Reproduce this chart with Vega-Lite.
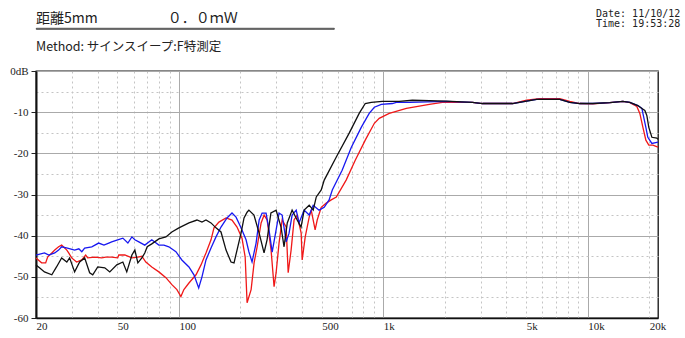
{
  "$schema": "https://vega.github.io/schema/vega-lite/v6.json",
  "padding": {"left": 9, "top": 9, "right": 5, "bottom": 5},
  "background": "white",
  "config": {"view": {"stroke": "#111", "strokeWidth": 1.3}, "font": "Liberation Sans Narrow"},
  "datasets": {
    "fr": [
      {"s":"r","f":20,"db":-45.4},{"s":"r","f":21.3,"db":-46.6},{"s":"r","f":22.3,"db":-46.6},{"s":"r","f":22.8,"db":-45.2},{"s":"r","f":23.9,"db":-44.2},{"s":"r","f":24.7,"db":-43.5},{"s":"r","f":25.8,"db":-42.7},{"s":"r","f":26.7,"db":-42.3},{"s":"r","f":28.3,"db":-43.5},{"s":"r","f":28.9,"db":-44.2},{"s":"r","f":29.9,"db":-45.4},{"s":"r","f":31.6,"db":-46.4},{"s":"r","f":33.5,"db":-45.9},{"s":"r","f":35.0,"db":-44.7},{"s":"r","f":35.8,"db":-45.4},{"s":"r","f":38.8,"db":-45.2},{"s":"r","f":41.9,"db":-45.4},{"s":"r","f":43.9,"db":-45.2},{"s":"r","f":46.9,"db":-45.2},{"s":"r","f":50.2,"db":-45.4},{"s":"r","f":50.8,"db":-44.7},{"s":"r","f":54.4,"db":-44.7},{"s":"r","f":58.9,"db":-45.4},{"s":"r","f":63.0,"db":-45.2},{"s":"r","f":65.9,"db":-45.0},{"s":"r","f":68.9,"db":-46.4},{"s":"r","f":73.7,"db":-47.6},{"s":"r","f":79.8,"db":-48.8},{"s":"r","f":86.4,"db":-50.2},{"s":"r","f":92.4,"db":-51.9},{"s":"r","f":97.8,"db":-53.1},{"s":"r","f":102.3,"db":-54.8},{"s":"r","f":105.8,"db":-53.1},{"s":"r","f":112,"db":-51.5},{"s":"r","f":121.3,"db":-49.5},{"s":"r","f":128.3,"db":-47.1},{"s":"r","f":135.7,"db":-44.2},{"s":"r","f":143.6,"db":-41.0},{"s":"r","f":148.5,"db":-38.1},{"s":"r","f":157,"db":-36.7},{"s":"r","f":170.1,"db":-35.7},{"s":"r","f":181.9,"db":-36.2},{"s":"r","f":192.5,"db":-37.9},{"s":"r","f":203.6,"db":-40.6},{"s":"r","f":211,"db":-45.2},{"s":"r","f":215.6,"db":-56.3},{"s":"r","f":225.6,"db":-53.1},{"s":"r","f":233.3,"db":-46.6},{"s":"r","f":241.4,"db":-42.7},{"s":"r","f":252.5,"db":-36.9},{"s":"r","f":261.2,"db":-35.0},{"s":"r","f":270.2,"db":-36.2},{"s":"r","f":282.5,"db":-43.5},{"s":"r","f":292.2,"db":-52.4},{"s":"r","f":299,"db":-49.0},{"s":"r","f":309,"db":-41.8},{"s":"r","f":320,"db":-36.2},{"s":"r","f":334.8,"db":-37.9},{"s":"r","f":342.5,"db":-49.0},{"s":"r","f":354,"db":-43.5},{"s":"r","f":366,"db":-36.2},{"s":"r","f":379,"db":-35.0},{"s":"r","f":396.5,"db":-39.4},{"s":"r","f":401,"db":-45.9},{"s":"r","f":415,"db":-40.3},{"s":"r","f":434,"db":-35.5},{"s":"r","f":444,"db":-33.8},{"s":"r","f":464,"db":-38.6},{"s":"r","f":475,"db":-36.2},{"s":"r","f":497,"db":-33.1},{"s":"r","f":526,"db":-32.1},{"s":"r","f":556,"db":-31.3},{"s":"r","f":589,"db":-30.6},{"s":"r","f":658,"db":-26.5},{"s":"r","f":729,"db":-21.7},{"s":"r","f":816,"db":-16.8},{"s":"r","f":904,"db":-12.7},{"s":"r","f":955,"db":-11.5},{"s":"r","f":1069,"db":-10.3},{"s":"r","f":1297,"db":-9.1},{"s":"r","f":1680,"db":-8.1},{"s":"r","f":1945,"db":-7.6},{"s":"r","f":2729,"db":-7.6},{"s":"r","f":3055,"db":-7.9},{"s":"r","f":4288,"db":-7.9},{"s":"r","f":5024,"db":-7.1},{"s":"r","f":5800,"db":-6.7},{"s":"r","f":7298,"db":-6.7},{"s":"r","f":8165,"db":-7.4},{"s":"r","f":9142,"db":-7.9},{"s":"r","f":10588,"db":-8.0},{"s":"r","f":12820,"db":-7.7},{"s":"r","f":14860,"db":-7.4},{"s":"r","f":16080,"db":-7.7},{"s":"r","f":17390,"db":-8.6},{"s":"r","f":17990,"db":-10.3},{"s":"r","f":18620,"db":-13.7},{"s":"r","f":19250,"db":-16.8},{"s":"r","f":19900,"db":-18.0},{"s":"r","f":20830,"db":-18.0},{"s":"r","f":22070,"db":-18.5},
      {"s":"b","f":20,"db":-44.7},{"s":"b","f":22.0,"db":-44.2},{"s":"b","f":23.1,"db":-44.7},{"s":"b","f":24.7,"db":-44.2},{"s":"b","f":25.8,"db":-43.5},{"s":"b","f":26.7,"db":-42.7},{"s":"b","f":28.5,"db":-43.0},{"s":"b","f":30.9,"db":-43.5},{"s":"b","f":32.4,"db":-43.2},{"s":"b","f":33.5,"db":-43.9},{"s":"b","f":34.6,"db":-43.0},{"s":"b","f":37.5,"db":-42.7},{"s":"b","f":40.5,"db":-41.8},{"s":"b","f":43.0,"db":-42.3},{"s":"b","f":45.4,"db":-41.8},{"s":"b","f":46.9,"db":-41.5},{"s":"b","f":50.2,"db":-41.0},{"s":"b","f":53.2,"db":-40.6},{"s":"b","f":56.3,"db":-41.8},{"s":"b","f":58.9,"db":-40.3},{"s":"b","f":60.9,"db":-41.0},{"s":"b","f":63.7,"db":-41.5},{"s":"b","f":68.1,"db":-42.3},{"s":"b","f":73.7,"db":-41.0},{"s":"b","f":79.8,"db":-42.3},{"s":"b","f":84.5,"db":-42.3},{"s":"b","f":89.3,"db":-42.7},{"s":"b","f":96.7,"db":-43.9},{"s":"b","f":103.4,"db":-45.9},{"s":"b","f":112,"db":-47.6},{"s":"b","f":118.5,"db":-49.5},{"s":"b","f":125,"db":-52.7},{"s":"b","f":129.7,"db":-50.0},{"s":"b","f":135.7,"db":-45.9},{"s":"b","f":143.6,"db":-43.0},{"s":"b","f":151.9,"db":-40.3},{"s":"b","f":160.7,"db":-37.9},{"s":"b","f":172,"db":-35.7},{"s":"b","f":181.9,"db":-34.5},{"s":"b","f":190.4,"db":-35.5},{"s":"b","f":201.4,"db":-38.1},{"s":"b","f":213.1,"db":-41.0},{"s":"b","f":220,"db":-43.9},{"s":"b","f":228,"db":-46.4},{"s":"b","f":238.6,"db":-41.8},{"s":"b","f":247,"db":-36.2},{"s":"b","f":255.4,"db":-34.5},{"s":"b","f":267,"db":-34.5},{"s":"b","f":276,"db":-38.6},{"s":"b","f":286,"db":-44.0},{"s":"b","f":299,"db":-38.6},{"s":"b","f":309,"db":-34.5},{"s":"b","f":320,"db":-35.0},{"s":"b","f":335,"db":-41.5},{"s":"b","f":346,"db":-39.4},{"s":"b","f":358,"db":-35.0},{"s":"b","f":375,"db":-33.8},{"s":"b","f":387,"db":-36.9},{"s":"b","f":410,"db":-33.8},{"s":"b","f":434,"db":-35.0},{"s":"b","f":454,"db":-32.6},{"s":"b","f":485,"db":-33.8},{"s":"b","f":514,"db":-33.1},{"s":"b","f":543,"db":-31.3},{"s":"b","f":563,"db":-28.9},{"s":"b","f":629,"db":-24.1},{"s":"b","f":697,"db":-18.6},{"s":"b","f":780,"db":-13.7},{"s":"b","f":853,"db":-10.3},{"s":"b","f":904,"db":-8.8},{"s":"b","f":978,"db":-8.1},{"s":"b","f":1107,"db":-7.9},{"s":"b","f":1158,"db":-7.6},{"s":"b","f":1340,"db":-7.6},{"s":"b","f":2032,"db":-7.4},{"s":"b","f":2729,"db":-7.6},{"s":"b","f":3055,"db":-7.9},{"s":"b","f":4288,"db":-7.9},{"s":"b","f":5024,"db":-7.3},{"s":"b","f":5624,"db":-6.9},{"s":"b","f":7298,"db":-6.9},{"s":"b","f":8165,"db":-7.6},{"s":"b","f":9142,"db":-7.9},{"s":"b","f":10588,"db":-7.9},{"s":"b","f":12820,"db":-7.7},{"s":"b","f":14860,"db":-7.4},{"s":"b","f":16080,"db":-7.6},{"s":"b","f":17590,"db":-8.4},{"s":"b","f":18410,"db":-9.1},{"s":"b","f":18620,"db":-10.3},{"s":"b","f":19250,"db":-13.7},{"s":"b","f":19680,"db":-16.1},{"s":"b","f":20600,"db":-17.6},{"s":"b","f":22070,"db":-17.3},
      {"s":"k","f":20,"db":-47.1},{"s":"k","f":20.8,"db":-47.8},{"s":"k","f":22.0,"db":-48.8},{"s":"k","f":23.9,"db":-49.5},{"s":"k","f":25.2,"db":-47.6},{"s":"k","f":26.7,"db":-45.4},{"s":"k","f":28.3,"db":-46.4},{"s":"k","f":29.2,"db":-45.4},{"s":"k","f":30.9,"db":-48.8},{"s":"k","f":32.7,"db":-46.4},{"s":"k","f":34.6,"db":-45.4},{"s":"k","f":36.6,"db":-49.0},{"s":"k","f":37.9,"db":-49.5},{"s":"k","f":40.1,"db":-47.6},{"s":"k","f":43.4,"db":-47.8},{"s":"k","f":45.9,"db":-48.8},{"s":"k","f":49.7,"db":-47.1},{"s":"k","f":53.2,"db":-46.4},{"s":"k","f":55.6,"db":-48.8},{"s":"k","f":58.9,"db":-44.7},{"s":"k","f":60.9,"db":-43.5},{"s":"k","f":63.0,"db":-46.6},{"s":"k","f":65.9,"db":-45.4},{"s":"k","f":68.1,"db":-44.2},{"s":"k","f":70.0,"db":-42.7},{"s":"k","f":73.7,"db":-42.0},{"s":"k","f":79.8,"db":-40.8},{"s":"k","f":86.4,"db":-40.3},{"s":"k","f":92.4,"db":-39.1},{"s":"k","f":100,"db":-38.1},{"s":"k","f":112,"db":-36.9},{"s":"k","f":122.6,"db":-36.2},{"s":"k","f":129.7,"db":-36.7},{"s":"k","f":135.7,"db":-36.2},{"s":"k","f":143.6,"db":-36.9},{"s":"k","f":151.9,"db":-38.1},{"s":"k","f":160.7,"db":-39.1},{"s":"k","f":170.1,"db":-43.5},{"s":"k","f":179.9,"db":-46.4},{"s":"k","f":186.1,"db":-46.6},{"s":"k","f":192.5,"db":-43.5},{"s":"k","f":201.4,"db":-39.4},{"s":"k","f":208.3,"db":-35.7},{"s":"k","f":215.6,"db":-34.3},{"s":"k","f":220,"db":-33.8},{"s":"k","f":233,"db":-35.0},{"s":"k","f":247,"db":-39.4},{"s":"k","f":261,"db":-44.2},{"s":"k","f":270,"db":-41.0},{"s":"k","f":282,"db":-34.5},{"s":"k","f":299,"db":-33.8},{"s":"k","f":316,"db":-37.9},{"s":"k","f":327,"db":-42.7},{"s":"k","f":339,"db":-36.9},{"s":"k","f":358,"db":-33.8},{"s":"k","f":379,"db":-36.2},{"s":"k","f":396,"db":-37.9},{"s":"k","f":410,"db":-33.8},{"s":"k","f":434,"db":-32.6},{"s":"k","f":454,"db":-33.8},{"s":"k","f":470,"db":-30.6},{"s":"k","f":497,"db":-28.9},{"s":"k","f":514,"db":-26.5},{"s":"k","f":589,"db":-20.9},{"s":"k","f":681,"db":-15.1},{"s":"k","f":762,"db":-10.3},{"s":"k","f":816,"db":-7.9},{"s":"k","f":874,"db":-7.6},{"s":"k","f":989,"db":-7.4},{"s":"k","f":1197,"db":-7.4},{"s":"k","f":1387,"db":-7.1},{"s":"k","f":2032,"db":-7.3},{"s":"k","f":2729,"db":-7.6},{"s":"k","f":3055,"db":-7.9},{"s":"k","f":4288,"db":-7.9},{"s":"k","f":5024,"db":-7.3},{"s":"k","f":5624,"db":-6.9},{"s":"k","f":7298,"db":-6.9},{"s":"k","f":8165,"db":-7.6},{"s":"k","f":9142,"db":-7.9},{"s":"k","f":10588,"db":-7.9},{"s":"k","f":12820,"db":-7.7},{"s":"k","f":14860,"db":-7.4},{"s":"k","f":16080,"db":-7.6},{"s":"k","f":17590,"db":-8.4},{"s":"k","f":18410,"db":-9.1},{"s":"k","f":19030,"db":-9.6},{"s":"k","f":19460,"db":-10.8},{"s":"k","f":19900,"db":-13.7},{"s":"k","f":20600,"db":-16.1},{"s":"k","f":21790,"db":-16.3},{"s":"k","f":22070,"db":-16.6}
    ]
  },
  "vconcat": [
    {
      "hconcat": [
        {
          "width": 298, "height": 1,
          "view": {"stroke": "#222", "strokeWidth": 0.8},
          "title": {"text": "距離5mm　　　　　０．０ｍＷ", "anchor": "start", "frame": "group", "font": "Noto Sans CJK JP", "fontSize": 14, "fontWeight": "normal", "color": "#222", "offset": -3},
          "data": {"values": [{}]},
          "mark": {"type": "text", "text": ""}
        },
        {
          "width": 88, "height": 1,
          "view": {"stroke": null},
          "title": {"text": ["Date: 11/10/12", "Time: 19:53:28"], "anchor": "start", "frame": "group", "font": "DejaVu Sans Mono", "fontSize": 10, "lineHeight": 9.5, "fontWeight": "normal", "color": "#222", "offset": -6},
          "data": {"values": [{}]},
          "mark": {"type": "text", "text": ""}
        }
      ],
      "spacing": 262,
      "bounds": "flush"
    },
    {
      "width": 622, "height": 247,
      "title": {"text": "Method:  サインスイープ:F特測定", "anchor": "start", "frame": "group", "font": "Noto Sans CJK JP", "fontSize": 12.5, "fontWeight": "normal", "color": "#222", "offset": 12},
      "data": {"name": "fr"},
      "mark": {"type": "line", "strokeWidth": 1.3, "interpolate": "linear"},
      "encoding": {
        "x": {
          "field": "f", "type": "quantitative",
          "scale": {"type": "log", "domain": [20, 22070], "nice": false},
          "axis": {
            "title": null,
            "values": [20,30,40,50,60,70,80,90,100,200,300,400,500,600,700,800,900,1000,2000,3000,4000,5000,6000,7000,8000,9000,10000,20000],
            "labelExpr": "datum.value == 1000 ? '1k' : datum.value == 5000 ? '5k' : datum.value == 10000 ? '10k' : datum.value == 20000 ? '20k' : (datum.value == 20 || datum.value == 50 || datum.value == 100 || datum.value == 500) ? '' + datum.value : ''",
            "labelAlign": "left", "labelDx": -2, "labelFontSize": 11, "labelColor": "#222", "labelPadding": 2,
            "labelFlush": false, "labelOverlap": false, "labelBound": false,
            "ticks": false, "domainColor": "#111", "domainWidth": 1.5,
            "grid": true,
            "gridColor": {"condition": {"test": "datum.value == 100 || datum.value == 1000 || datum.value == 10000", "value": "#aaaaaa"}, "value": "#c4c4c4"},
            "gridDash": {"condition": {"test": "datum.value == 100 || datum.value == 1000 || datum.value == 10000", "value": []}, "value": [2, 3]},
            "gridWidth": 1
          }
        },
        "y": {
          "field": "db", "type": "quantitative",
          "scale": {"domain": [-60, 0], "nice": false},
          "axis": {
            "title": null,
            "values": [0,-5,-10,-15,-20,-25,-30,-35,-40,-45,-50,-55,-60],
            "labelExpr": "datum.value == 0 ? '0dB' : (datum.value % 10 == 0 ? '' + datum.value : '')",
            "labelFontSize": 11, "labelColor": "#222", "labelPadding": 3,
            "tickSize": 5, "tickColor": "#222",
            "tickOpacity": {"condition": {"test": "datum.value % 10 == 0", "value": 1}, "value": 0},
            "domainColor": "#111", "domainWidth": 2,
            "grid": true,
            "gridColor": {"condition": {"test": "datum.value % 10 == 0", "value": "#aaaaaa"}, "value": "#c4c4c4"},
            "gridDash": {"condition": {"test": "datum.value % 10 == 0", "value": []}, "value": [2, 3]},
            "gridWidth": 1
          }
        },
        "color": {
          "field": "s", "type": "nominal",
          "scale": {"domain": ["r", "b", "k"], "range": ["#f01818", "#1818f0", "#101010"]},
          "legend": null
        }
      }
    }
  ],
  "spacing": 43,
  "bounds": "flush"
}
